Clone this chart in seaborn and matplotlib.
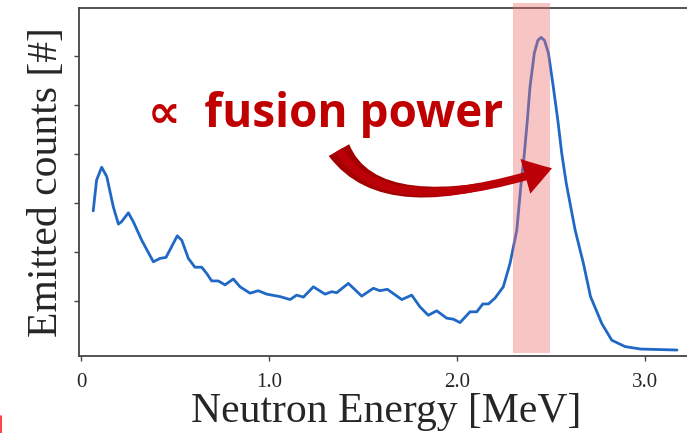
import matplotlib
matplotlib.use('Agg')
import matplotlib.pyplot as plt
import seaborn as sns
import pandas as pd
from matplotlib.lines import Line2D

# Spectrum (energy in MeV, counts in tick units)
energy = [0.065, 0.083, 0.110, 0.137, 0.172, 0.199, 0.216, 0.252, 0.278, 0.323,
          0.385, 0.420, 0.452, 0.482, 0.512, 0.536, 0.571, 0.606, 0.642, 0.669,
          0.695, 0.730, 0.766, 0.810, 0.846, 0.899, 0.943, 0.988, 1.059, 1.112,
          1.147, 1.183, 1.236, 1.298, 1.333, 1.360, 1.422, 1.493, 1.555, 1.590,
          1.629, 1.706, 1.759, 1.803, 1.847, 1.892, 1.945, 1.980, 2.016, 2.069,
          2.105, 2.137, 2.167, 2.202, 2.246, 2.282, 2.318, 2.340, 2.358, 2.374,
          2.388, 2.411, 2.430, 2.447, 2.465, 2.486, 2.512, 2.536, 2.557, 2.581,
          2.628, 2.672, 2.710, 2.770, 2.823, 2.894, 2.976, 3.170]
counts = [2.84, 3.47, 3.73, 3.54, 2.92, 2.57, 2.62, 2.80, 2.62, 2.24,
          1.80, 1.87, 1.89, 2.11, 2.33, 2.24, 1.87, 1.69, 1.69, 1.56,
          1.41, 1.41, 1.33, 1.45, 1.29, 1.16, 1.21, 1.14, 1.09, 1.03,
          1.12, 1.08, 1.29, 1.14, 1.19, 1.17, 1.36, 1.10, 1.26, 1.21,
          1.24, 1.03, 1.12, 0.88, 0.71, 0.80, 0.65, 0.63, 0.56, 0.78,
          0.78, 0.94, 0.94, 1.06, 1.29, 1.77, 2.45, 3.37, 4.01, 4.69,
          5.37, 6.06, 6.32, 6.38, 6.32, 6.06, 5.37, 4.69, 4.01, 3.40,
          2.45, 1.77, 1.09, 0.54, 0.20, 0.07, 0.02, 0.00]

x_ticks = [0, 1.0, 2.0, 3.0]
x_tick_labels = ['0', '1.0', '2.0', '3.0']
y_ticks = [1, 2, 3, 4, 5, 6]
band = [2.30, 2.495]  # highlighted peak window
note = '\u221d  fusion power'


def make_plot():
    sns.set_style('ticks')
    plt.rcParams['font.family'] = ['Liberation Serif', 'DejaVu Serif']

    fig = plt.figure(figsize=(6.87, 4.33), dpi=100)
    ax = fig.add_axes([79 / 687, 77 / 433, 614 / 687, 348 / 433])

    df = pd.DataFrame({'energy': energy, 'counts': counts})
    sns.lineplot(data=df, x='energy', y='counts', ax=ax, color='#1f68c6',
                 linewidth=2.0, zorder=2)
    ax.lines[0].set_solid_joinstyle('round')

    # pink window over the peak
    ax.axvspan(band[0], band[1], ymin=0.009, ymax=1.014, color='#ee6f6f',
               alpha=0.4, lw=0, zorder=3, clip_on=False)

    ax.set_xlim(-0.0106, 3.255)
    ax.set_ylim(-0.122, 6.98)
    ax.set_xticks(x_ticks)
    ax.set_xticklabels(x_tick_labels)
    ax.set_yticks(y_ticks)
    ax.set_yticklabels([])
    ax.tick_params(direction='out', length=3.5, width=1, color='#444444',
                   labelsize=15, pad=9)

    for side in ['left', 'bottom', 'top']:
        ax.spines[side].set_color('#444444')
        ax.spines[side].set_linewidth(1.3)
    ax.spines['right'].set_visible(False)

    ax.set_xlabel('Neutron Energy [MeV]', fontsize=30, labelpad=0)
    ax.set_ylabel('Emitted counts [#]', fontsize=30, labelpad=-3)

    # annotation text and curved arrow
    ax.text(1.30, 4.55, note, ha='center', va='baseline', fontsize=33,
            fontweight='bold', color='#c00000',
            family=['Open Sans', 'DejaVu Sans'], zorder=5)
    tail = (1.372, 4.08)
    tip = (2.505, 3.71)
    conn = 'angle3,angleA=-60,angleB=18'
    ax.annotate('', xy=tip, xytext=tail, zorder=4,
                arrowprops=dict(arrowstyle='wedge,tail_width=0.85,shrink_factor=0.5',
                                connectionstyle=conn, color='#a20000', lw=0,
                                mutation_scale=20, shrinkA=0, shrinkB=0))
    ax.annotate('', xy=tip, xytext=tail, zorder=4,
                arrowprops=dict(arrowstyle='simple,head_length=1.0,head_width=1.3,tail_width=0.3',
                                connectionstyle=conn, color='#bc0008', lw=0,
                                mutation_scale=20, shrinkA=0, shrinkB=0))

    # small red mark at the lower left edge
    fig.add_artist(Line2D([0.001, 0.001], [0, 17 / 433], transform=fig.transFigure,
                          color='#ff2020', lw=1.2))

    fig.savefig('out.png', dpi=100)


if __name__ == '__main__':
    make_plot()
